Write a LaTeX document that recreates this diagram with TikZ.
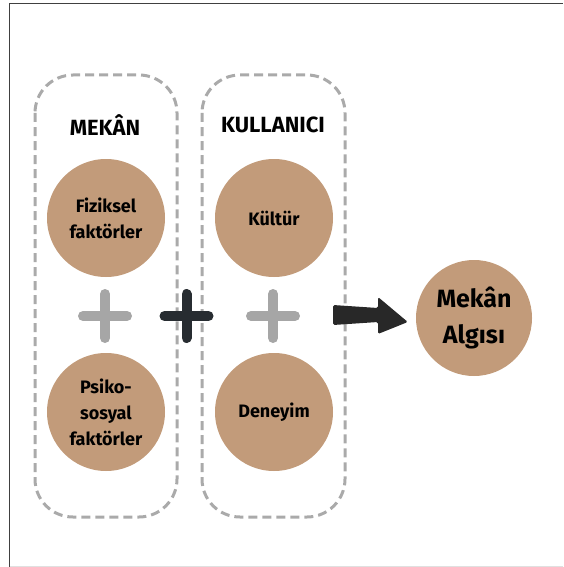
\documentclass[tikz,border=0pt]{standalone}
\usepackage{fontspec}
\setmainfont{Fira Sans}
\definecolor{tan}{HTML}{C29B7A}
\definecolor{dashgray}{HTML}{AAAAAA}
\definecolor{plusgray}{HTML}{A6A6A6}
\definecolor{plusdark}{HTML}{272C31}
\definecolor{arrowdark}{HTML}{282828}
\begin{document}
\begin{tikzpicture}[x=1pt,y=-1pt,
  groupbox/.style={draw=dashgray, line width=3pt, dash pattern=on 9pt off 5pt, rounded corners=38pt},
  disc/.style={circle, fill=tan, minimum size=118pt, inner sep=0pt, align=center,
    font=\fontsize{18}{26}\selectfont\bfseries},
  bigdisc/.style={disc, minimum size=116pt, font=\fontsize{25}{36}\selectfont\bfseries},
  heading/.style={font=\fontsize{22}{24}\selectfont\bfseries},
  plusmark/.style={line width=10pt, line cap=round}
]
\useasboundingbox (0,0) rectangle (563,567);
% frame
\draw[line width=1.5pt, black!75] (9.5,567) -- (9.5,3.5) -- (563,3.5);
\draw[line width=1pt, black!12] (9.5,566) -- (563,566);
% group boxes
\draw[groupbox] (35,75) rectangle (177,517);
\draw[groupbox] (202,75) rectangle (345,517);
% headings
\node[heading] (h1) at (105,125) {MEKÂN};
\node[heading] (h2) at (273,125) {KULLANICI};
% circles
\node[disc] (fiz) at (106,218) {Fiziksel\\faktörler};
\node[disc] (psi) at (106,412) {Psiko-\\sosyal\\faktörler};
\node[disc] (kul) at (274,218) {Kültür};
\node[disc] (den) at (274,412) {Deneyim};
\node[bigdisc] (alg) at (474,318) {Mekân\\Algısı};
% plus signs
\coordinate (p1) at (105,316);
\coordinate (p2) at (186.5,316);
\coordinate (p3) at (273,316);
\draw[plusmark, plusgray] ([xshift=-22pt]p1) -- ([xshift=22pt]p1) ([yshift=-22pt]p1) -- ([yshift=22pt]p1);
\draw[plusmark, plusdark] ([xshift=-22pt]p2) -- ([xshift=22pt]p2) ([yshift=-22pt]p2) -- ([yshift=22pt]p2);
\draw[plusmark, plusgray] ([xshift=-22pt]p3) -- ([xshift=22pt]p3) ([yshift=-22pt]p3) -- ([yshift=22pt]p3);
% arrow
\coordinate (as) at (333,315);
\fill[arrowdark, rounded corners=1.5pt]
  ([yshift=-10pt]as) -- ([xshift=45pt,yshift=-7pt]as) -- ([xshift=45pt,yshift=-19pt]as)
  -- ([xshift=-8pt,yshift=-4pt]alg.west) -- ([xshift=45pt,yshift=18pt]as) -- ([xshift=45pt,yshift=7pt]as)
  -- ([yshift=10pt]as) -- cycle;
\end{tikzpicture}
\end{document}
